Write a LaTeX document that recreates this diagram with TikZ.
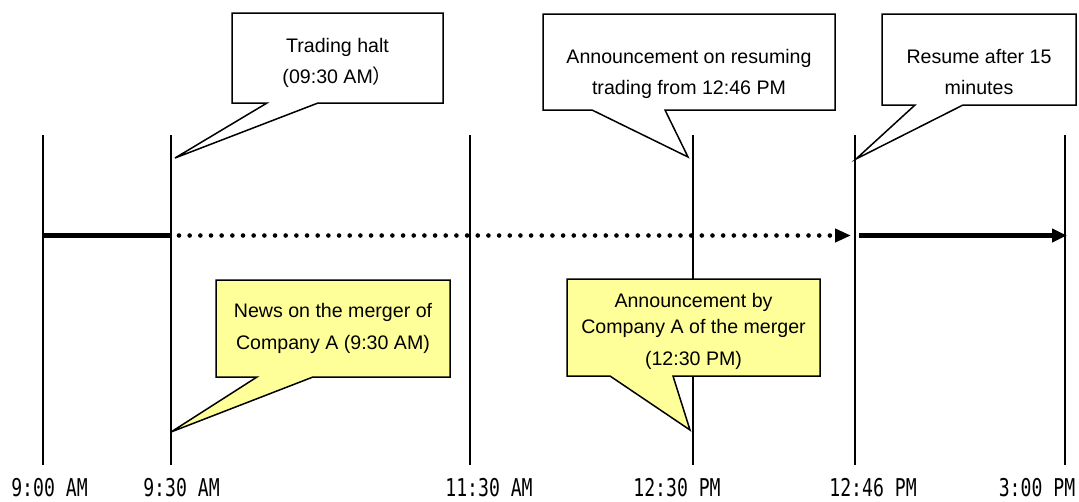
\documentclass[tikz,border=0pt]{standalone}
\usepackage{fontspec}
\setmainfont{Liberation Sans}
\newfontfamily\cjk{Noto Sans CJK JP}
\newfontfamily\timefont[FakeStretch=0.74]{DejaVu Sans Mono}
\usetikzlibrary{arrows.meta}
\definecolor{noteyellow}{HTML}{FFFF99}

\begin{document}
\begin{tikzpicture}[x=1pt,y=-1pt,
  tick/.style={line width=1.8pt},
  bubble/.style={draw=black,line width=1.5pt,line join=miter},
  txt/.style={font=\fontsize{19.6}{31}\selectfont,align=center,inner sep=0pt,anchor=north},
  timelabel/.style={font=\timefont\fontsize{24.5}{24.5}\selectfont,anchor=base,inner sep=0pt},
  running/.style={line width=5pt},
  halted/.style={line width=4.6pt,line cap=round,dash pattern=on 0pt off 10.67pt}]
\useasboundingbox (0,0) rectangle (1079,501);

% time marks: top, bottom and axis point of each vertical line
\foreach \n/\x in {t900/43,t930/171,t1130/470,t1230/693,t1246/855,t1500/1065}{
  \coordinate (\n top) at (\x,135);
  \coordinate (\n bot) at (\x,465);
  \coordinate (\n axis) at (\x,235.5);
}
\foreach \n in {t900,t930,t1130,t1230,t1246,t1500}
  \draw[tick] (\n top) -- (\n bot);

% trading timeline
\draw[running] (t900axis) -- (t930axis);
\draw[halted,-{Triangle[length=16pt,width=13pt]}]
  ([xshift=8pt]t930axis) -- ([xshift=-4pt]t1246axis);
\draw[running,-{Triangle[length=15pt,width=13pt]}]
  ([xshift=4pt]t1246axis) -- ([xshift=2pt]t1500axis);

% callout tips
\coordinate (haltTip) at (175,158);
\coordinate (resumeNoticeTip) at (688,157);
\coordinate (resumeTip) at (856,159);
\coordinate (newsTip) at (171,432);
\coordinate (mergerTip) at (690,430);

% upper callouts
\draw[bubble,fill=white] (232,13) -- (443,13) -- (443,103) -- (318,103)
  -- (haltTip) -- (267,103) -- (232,103) -- cycle;
\node[txt] (halt) at (337.5,38) {Trading halt\\(09:30 AM{\cjk ）}};

\draw[bubble,fill=white] (543,14) -- (835,14) -- (835,110) -- (665,110)
  -- (resumeNoticeTip) -- (592,110) -- (543,110) -- cycle;
\node[txt] (resumeNotice) at (689,49.5) {Announcement on resuming\\trading from 12:46 PM};

\draw[bubble,fill=white] (882,14) -- (1076,14) -- (1076,105) -- (963,105)
  -- (resumeTip) -- (915,105) -- (882,105) -- cycle;
\node[txt] (resume) at (979,49.5) {Resume after 15\\minutes};

% lower callouts
\draw[bubble,fill=noteyellow] (216,280) -- (450,280) -- (450,377) -- (313,377)
  -- (newsTip) -- (257,377) -- (216,377) -- cycle;
\node[txt] (news) at (333,303) {News on the merger of\\[1pt]Company A (9:30 AM)};

\draw[bubble,fill=noteyellow] (567,279) -- (820,279) -- (820,376) -- (673,376)
  -- (mergerTip) -- (610,376) -- (567,376) -- cycle;
\node[txt] (merger) at (693.5,293) {Announcement by\\[-5pt]Company A of the merger\\[1pt](12:30 PM)};

% time labels
\node[timelabel] (l900) at (49.5,496.5) {9:00 AM};
\node[timelabel] (l930) at (181.5,496.5) {9:30 AM};
\node[timelabel] (l1130) at (489,496.5) {11:30 AM};
\node[timelabel] (l1230) at (677,496.5) {12:30 PM};
\node[timelabel] (l1246) at (873,496.5) {12:46 PM};
\node[timelabel] (l1500) at (1037,496.5) {3:00 PM};
\end{tikzpicture}
\end{document}
